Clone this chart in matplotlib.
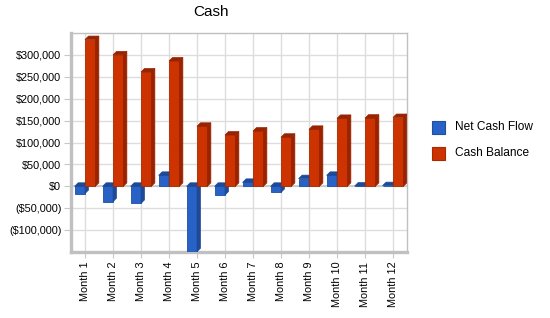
import matplotlib
matplotlib.use("Agg")
import matplotlib.pyplot as plt
from matplotlib.patches import Polygon
from matplotlib.ticker import FuncFormatter

plt.rcParams['font.family'] = ['Liberation Sans', 'DejaVu Sans']

months = ['Month 1', 'Month 2', 'Month 3', 'Month 4', 'Month 5', 'Month 6',
          'Month 7', 'Month 8', 'Month 9', 'Month 10', 'Month 11', 'Month 12']
net_cash_flow = [-16500, -35000, -39000, 25000, -149300, -20000,
                 9000, -14000, 17500, 25000, 500, 1500]
cash_balance = [335000, 300000, 261000, 286000, 137000, 117000,
                126000, 112000, 130000, 155000, 155500, 157000]
series_names = ['Net Cash Flow', 'Cash Balance']
yticks = [-100000, -50000, 0, 50000, 100000, 150000, 200000, 250000, 300000]

W, H = 550, 318
fig = plt.figure(figsize=(W / 100, H / 100), dpi=100)
ax_l, ax_r, ax_t, ax_b = 71, 407, 33, 252
ax = fig.add_axes([ax_l / W, 1 - ax_b / H, (ax_r - ax_l) / W, (ax_b - ax_t) / H])

ymin, ymax = -150000, 350000
ax.set_xlim(-0.5, len(months) - 0.5)
ax.set_ylim(ymin, ymax)

# taille d'un pixel en unites de donnees (pour l'effet 3D)
px_x = len(months) / (ax_r - ax_l)
px_y = (ymax - ymin) / (ax_b - ax_t)
dx, dy = 3.5 * px_x, 3.5 * px_y

colores = [('#2862C6', '#1D4A98', '#1E4FA0'), ('#CC3300', '#992200', '#A82A00')]
bw = 0.37


def bar3d(x0, v, front, side, edge):
    x1 = x0 + bw
    yb, yt = min(0, v), max(0, v)
    ax.add_patch(Polygon([(x0, yb), (x1, yb), (x1, yt), (x0, yt)], closed=True,
                         facecolor=front, edgecolor=edge, lw=0.6, zorder=3))
    ax.add_patch(Polygon([(x0, yt), (x1, yt), (x1 + dx, yt + dy), (x0 + dx, yt + dy)],
                         closed=True, facecolor=side, edgecolor=side, lw=0.5, zorder=3))
    ax.add_patch(Polygon([(x1, yb), (x1, yt), (x1 + dx, yt + dy), (x1 + dx, yb + dy)],
                         closed=True, facecolor=side, edgecolor=side, lw=0.5, zorder=3))


for i in range(len(months)):
    bar3d(i - bw, net_cash_flow[i], *colores[0])
    bar3d(i, cash_balance[i], *colores[1])

ax.axhline(0, color='#C8C8C8', lw=1.2, zorder=2)

ax.set_yticks(yticks)
ax.yaxis.set_major_formatter(FuncFormatter(
    lambda v, p: '$0' if v == 0 else ('${:,.0f}'.format(v) if v > 0 else '(${:,.0f})'.format(-v))))
ax.set_xticks(range(len(months)))
ax.set_xticklabels(months, rotation=90)
ax.grid(True, color='#DDDDDD', lw=1, zorder=0)
ax.set_axisbelow(True)
ax.tick_params(axis='y', length=5, color='#C8C8C8', labelsize=7.8, pad=2)
ax.tick_params(axis='x', length=4, color='#C8C8C8', labelsize=7.8, pad=3)

for s in ['top', 'right']:
    ax.spines[s].set_color('#C0C0C0')
    ax.spines[s].set_linewidth(1)
for s in ['left', 'bottom']:
    ax.spines[s].set_color('#C0C0C0')
    ax.spines[s].set_linewidth(2.4)

fig.text(211 / W, 1 - 12 / H, 'Cash', ha='center', va='center', fontsize=11)

# leyenda manual
for k, name in enumerate(series_names):
    ytop = 120.5 + k * 26.5
    fig.patches.append(plt.Rectangle((432 / W, 1 - (ytop + 13) / H), 13 / W, 13 / H,
                                     transform=fig.transFigure, facecolor=colores[k][0],
                                     edgecolor=colores[k][2], lw=0.8))
    fig.text(455 / W, 1 - (ytop + 6.5) / H, name, ha='left', va='center', fontsize=8.6)

plt.savefig('out.png', dpi=100)
